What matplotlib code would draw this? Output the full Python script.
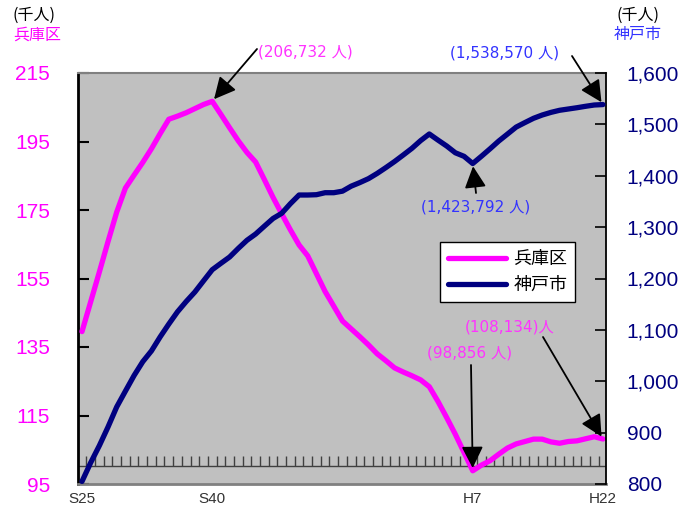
import matplotlib
matplotlib.use('Agg')
import matplotlib.pyplot as plt
from matplotlib.ticker import FuncFormatter
from matplotlib.lines import Line2D

plt.rcParams['font.family'] = ['Liberation Sans', 'Noto Sans CJK JP']

# ---- data (thousand persons), S25(1950) .. H22(2010) ----
years = list(range(1950, 2011))
hyogo = [139.5, 148.2, 156.9, 165.8, 174.4, 181.4, 185.2, 188.9, 192.9, 197.3,
         201.5, 202.4, 203.4, 204.6, 205.8, 206.732, 202.9, 199.0, 195.2, 191.8,
         189.0, 183.9, 178.7, 173.9, 169.2, 164.8, 161.6, 156.4, 151.2, 146.9,
         142.6, 140.3, 138.0, 135.6, 133.0, 131.0, 128.9, 127.7, 126.6, 125.4,
         123.4, 119.1, 114.4, 109.5, 104.2, 98.856, 100.5, 101.8, 103.7, 105.5,
         106.7, 107.4, 108.1, 108.1, 107.3, 106.9, 107.4, 107.6, 108.2, 108.8,
         108.134]
kobe = [805.0, 841.5, 874.7, 911.1, 950.1, 980.8, 1011.2, 1038.1, 1059.1, 1086.3,
        1111.4, 1135.2, 1155.2, 1173.7, 1195.5, 1217.1, 1229.6, 1241.8, 1258.6, 1274.4,
        1286.6, 1301.8, 1316.8, 1326.9, 1345.6, 1362.5, 1362.5, 1363.1, 1367.0, 1367.0,
        1370.0, 1379.7, 1386.7, 1394.4, 1404.6, 1415.9, 1427.7, 1440.4, 1453.4, 1468.4,
        1481.3, 1469.4, 1457.9, 1444.7, 1437.8, 1423.792, 1437.9, 1452.5, 1467.6, 1481.1,
        1494.7, 1503.4, 1511.8, 1518.2, 1523.3, 1527.4, 1529.9, 1532.4, 1535.2, 1537.7,
        1538.570]
xtick_years = [1950, 1965, 1995, 2010]
xtick_labels = ['S25', 'S40', 'H7', 'H22']
left_ticks = [95, 115, 135, 155, 175, 195, 215]
right_ticks = [800, 900, 1000, 1100, 1200, 1300, 1400, 1500, 1600]
series_names = ['兵庫区', '神戸市']

MAG = '#FF00FF'
NAVY = '#000080'
BLUE_TXT = '#3333FF'
MAG_TXT = '#FF33FF'
CJK = ['Noto Sans CJK JP', 'DejaVu Sans']
ANN = ['DejaVu Sans', 'Noto Sans CJK JP']

W, H = 696, 508
fig = plt.figure(figsize=(W / 100, H / 100), dpi=100)
ax = fig.add_axes([78 / W, 1 - 484 / H, (606 - 78) / W, (484 - 73) / H])
ax.set_facecolor('#C0C0C0')
ax2 = ax.twinx()

x = [y - 1950 for y in years]
ax.plot(x, hyogo, color=MAG, lw=3.8, solid_capstyle='round', solid_joinstyle='round', zorder=3)
ax2.plot(x, kobe, color=NAVY, lw=3.8, solid_capstyle='round', solid_joinstyle='round', zorder=3)

ax.set_xlim(-0.46, 60.35)
ax.set_ylim(95, 215)
ax2.set_ylim(800, 1600)

# baseline with small annual ticks
base = 100.3
ax.axhline(base, color='#404040', lw=1.0, zorder=2)
ax.vlines([i + 0.5 for i in range(60)], base, base + 10 / 3.425, color='#404040', lw=1.0, zorder=2)

# ticks
ax.set_yticks(left_ticks)
ax.tick_params(axis='y', direction='in', length=8, width=1.5, color='black',
               labelcolor=MAG, labelsize=15, pad=20)
ax2.set_yticks(right_ticks)
ax2.yaxis.set_major_formatter(FuncFormatter(lambda v, p: f'{int(v):,}'))
ax2.tick_params(axis='y', direction='in', length=8, width=1.2, color='black',
                labelcolor=NAVY, labelsize=15, pad=15)
ax.set_xticks([y - 1950 for y in xtick_years])
ax.set_xticklabels(xtick_labels)
ax.tick_params(axis='x', length=0, labelsize=11, labelcolor='#333333', pad=6)

# spines
for s in ['left', 'top', 'bottom']:
    ax2.spines[s].set_visible(False)
ax.spines['right'].set_visible(False)
ax.spines['left'].set_color('black'); ax.spines['left'].set_linewidth(2.0)
ax.spines['top'].set_color('#808080'); ax.spines['top'].set_linewidth(1.5)
ax.spines['bottom'].set_color('#808080'); ax.spines['bottom'].set_linewidth(2.0)
ax2.spines['right'].set_color('black'); ax2.spines['right'].set_linewidth(1.3)

# axis titles
fig.text(34 / W, 1 - 15 / H, '(千人)', family=CJK, fontsize=11.5, color='black', ha='center', va='center')
fig.text(37 / W, 1 - 35 / H, '兵庫区', family=CJK, fontsize=11.5, color=MAG, ha='center', va='center')
fig.text(638 / W, 1 - 15 / H, '(千人)', family=CJK, fontsize=11.5, color='black', ha='center', va='center')
fig.text(638 / W, 1 - 35 / H, '神戸市', family=CJK, fontsize=11.5, color=BLUE_TXT, ha='center', va='center')

# annotations
arrow = dict(arrowstyle='-|>,head_length=0.6,head_width=0.3', mutation_scale=22,
             color='black', lw=1.3, shrinkA=0, shrinkB=2)

def note(axis, xi, val, tail, text, tpos, color):
    axis.annotate('', xy=(xi, val), xycoords='data',
                  xytext=(tail[0], H - tail[1]), textcoords='figure pixels',
                  arrowprops=arrow, zorder=5)
    fig.text(tpos[0] / W, 1 - tpos[1] / H, text, family=ANN, fontsize=11,
             color=color, ha='left', va='center')

i15 = years.index(1965); i45 = years.index(1995); i60 = years.index(2010)
note(ax, x[i15], hyogo[i15], (257, 49), '(206,732 人)', (258, 52), MAG_TXT)
note(ax2, x[i60], kobe[i60], (572, 56), '(1,538,570 人)', (450, 53), BLUE_TXT)
note(ax2, x[i45], kobe[i45], (476, 193), '(1,423,792 人)', (421, 207), BLUE_TXT)
note(ax, x[i45], hyogo[i45], (471, 365), '(98,856 人)', (427, 353), MAG_TXT)
note(ax, x[i60], hyogo[i60], (543, 337), '(108,134)人', (465, 327), MAG_TXT)

# legend
handles = [Line2D([], [], color=MAG, lw=3.8, solid_capstyle='round'),
           Line2D([], [], color=NAVY, lw=3.8, solid_capstyle='round')]
leg = ax2.legend(handles, series_names, loc='upper left',
                 bbox_to_anchor=(440 / W, 1 - 242 / H), bbox_transform=fig.transFigure,
                 prop={'family': CJK, 'size': 13}, frameon=True, fancybox=False,
                 handlelength=3.2, handletextpad=0.4, labelspacing=0.45,
                 borderpad=0.45, borderaxespad=0)
leg.get_frame().set_edgecolor('black')
leg.get_frame().set_linewidth(1.0)
leg.get_frame().set_facecolor('white')
leg.get_frame().set_alpha(1)
leg.set_zorder(10)

fig.savefig('out.png', dpi=100)
